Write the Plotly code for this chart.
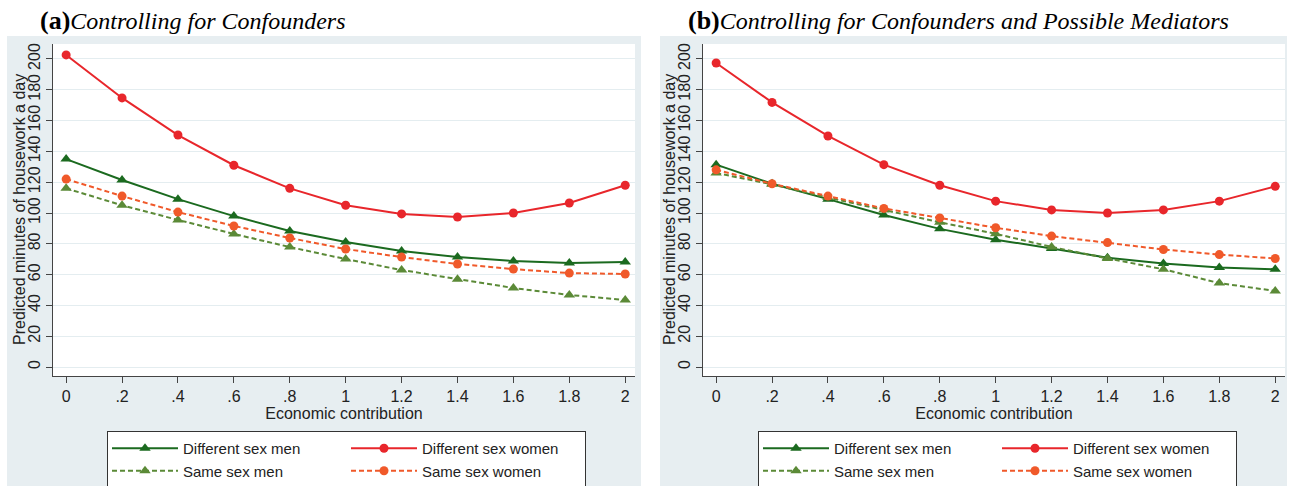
import plotly.graph_objects as go

W, H = 1291, 486

x_vals = [0, 0.2, 0.4, 0.6, 0.8, 1.0, 1.2, 1.4, 1.6, 1.8, 2.0]
x_tick_vals = [0, 0.2, 0.4, 0.6, 0.8, 1.0, 1.2, 1.4, 1.6, 1.8, 2.0]
x_tick_text = ["0", ".2", ".4", ".6", ".8", "1", "1.2", "1.4", "1.6", "1.8", "2"]
y_tick_vals = [0, 20, 40, 60, 80, 100, 120, 140, 160, 180, 200]

# Panel (a): Controlling for Confounders
a_diff_men = [135, 121.4, 109, 98, 88.3, 81.2, 75.3, 71.4, 68.8, 67.5, 68.2]
a_diff_women = [202.6, 174.7, 150.6, 131, 116, 105, 99.4, 97.4, 100, 106.5, 118]
a_same_men = [116, 105, 95.5, 86.4, 77.9, 70.1, 63, 57, 51.3, 46.8, 43.5]
a_same_women = [122, 111, 100.6, 91.6, 83.8, 76.6, 71.4, 66.9, 63.6, 61, 60.4]

# Panel (b): Controlling for Confounders and Possible Mediators
b_diff_men = [131.4, 119, 109, 98.7, 89.7, 82.7, 77, 71, 67.3, 64.7, 63.5]
b_diff_women = [197.4, 171.8, 150, 131.4, 118, 107.7, 102, 100, 102, 107.7, 117.3]
b_same_men = [126, 118.6, 110, 102, 94, 86.5, 78, 70.5, 63.5, 54.5, 49.4]
b_same_women = [128, 119, 111, 103, 96.8, 90.4, 85, 80.8, 76.3, 73, 70.5]

series_names = ["Different sex men", "Different sex women", "Same sex men", "Same sex women"]
panel_labels = ["(a)", "(b)"]
panel_titles = ["Controlling for Confounders",
                "Controlling for Confounders and Possible Mediators"]
x_title = "Economic contribution"
y_title = "Predicted minutes of housework a day"

C_DGREEN = "#1b6a1f"
C_RED = "#e8262b"
C_OGREEN = "#5b8a37"
C_ORANGE = "#f0592a"

styles = [
    dict(color=C_DGREEN, dash="solid", symbol="triangle-up", group="men"),
    dict(color=C_RED, dash="solid", symbol="circle", group="women"),
    dict(color=C_OGREEN, dash="5px,3px", symbol="triangle-up", group="men"),
    dict(color=C_ORANGE, dash="5px,3px", symbol="circle", group="women"),
]

panels = [
    dict(data=[a_diff_men, a_diff_women, a_same_men, a_same_women], xa="x", ya="y", legend="legend"),
    dict(data=[b_diff_men, b_diff_women, b_same_men, b_same_women], xa="x2", ya="y2", legend="legend2"),
]

fig = go.Figure()
for pi, p in enumerate(panels):
    for si, ys in enumerate(p["data"]):
        st = styles[si]
        fig.add_trace(go.Scatter(
            x=x_vals, y=ys, mode="lines+markers", name=series_names[si],
            xaxis=p["xa"], yaxis=p["ya"], legend=p["legend"],
            legendgroup=f"{p['legend']}_{st['group']}",
            line=dict(color=st["color"], width=2, dash=st["dash"]),
            marker=dict(color=st["color"], symbol=st["symbol"], size=9 if st["symbol"] == "circle" else 10),
        ))

def px(x):
    return x / W

def py(y):
    return 1 - y / H

dom_y = [py(376), py(44)]
doms_x = [[px(53), px(635)], [px(703), px(1285)]]
AX_FONT = dict(family="Liberation Sans, Arial", size=16, color="#222")
for i, ax in enumerate(["", "2"]):
    fig.layout["xaxis" + ax] = dict(
        domain=doms_x[i], range=[-0.047, 2.035], tickmode="array",
        tickvals=x_tick_vals, ticktext=x_tick_text, ticks="outside", ticklen=6,
        tickcolor="#444", showline=True, linecolor="#444", linewidth=1,
        showgrid=False, zeroline=False, tickfont=AX_FONT, automargin=False,
        title=dict(text=x_title, font=AX_FONT, standoff=2),
        anchor="y" + ax,
    )
    fig.layout["yaxis" + ax] = dict(
        domain=dom_y, range=[-5.8, 209.7], tickmode="array", tickvals=y_tick_vals,
        ticks="outside", ticklen=6, tickcolor="#444", tickangle=-90,
        showline=True, linecolor="#444", linewidth=1, showgrid=True,
        gridcolor="#e4edf0", gridwidth=1, zeroline=False, tickfont=AX_FONT, automargin=False,
        anchor="x" + ax,
    )

# panel backgrounds
shapes = [
    dict(type="rect", xref="paper", yref="paper", x0=px(7), x1=px(641), y0=0, y1=py(36),
         fillcolor="#e7eef1", line=dict(width=0), layer="below"),
    dict(type="rect", xref="paper", yref="paper", x0=px(660), x1=px(1287), y0=0, y1=py(36),
         fillcolor="#e7eef1", line=dict(width=0), layer="below"),
]
for i in range(2):
    shapes.append(dict(type="rect", xref="paper", yref="paper", x0=doms_x[i][0], x1=doms_x[i][1],
                       y0=dom_y[0], y1=dom_y[1], fillcolor="white", line=dict(width=0), layer="below"))

title_x = [38, 686]
ytitle_x = [19, 669]
annotations = []
for i in range(2):
    annotations.append(dict(
        text=f"<span style='font-size:26px'><b>{panel_labels[i]}</b></span><i>{panel_titles[i]}</i>",
        x=px(title_x[i]), y=py(21), xref="paper", yref="paper", xanchor="left",
        yanchor="middle", showarrow=False,
        font=dict(family="Liberation Serif", size=24, color="#000")))
    annotations.append(dict(
        text=y_title, textangle=-90, x=px(ytitle_x[i]), y=(dom_y[0] + dom_y[1]) / 2,
        xref="paper", yref="paper", xanchor="center", yanchor="middle", showarrow=False,
        font=AX_FONT))

LEG = dict(orientation="h", traceorder="grouped", xanchor="left", yanchor="top",
           xref="container", yref="container",
           bgcolor="white", bordercolor="#333", borderwidth=1, itemwidth=66,
           entrywidth=158, tracegroupgap=10,
           font=dict(family="Liberation Sans, Arial", size=15, color="#222"))

fig.update_layout(
    width=W, height=H, margin=dict(l=0, r=0, t=0, b=0, autoexpand=False),
    paper_bgcolor="white", plot_bgcolor="rgba(0,0,0,0)",
    shapes=shapes, annotations=annotations, showlegend=True,
    legend=dict(LEG, x=px(107), y=py(431)),
    legend2=dict(LEG, x=px(758), y=py(431)),
)

fig.write_html("out.html", config={"displayModeBar": False},
               post_script="document.body.style.margin='0';document.body.style.overflow='hidden';")
